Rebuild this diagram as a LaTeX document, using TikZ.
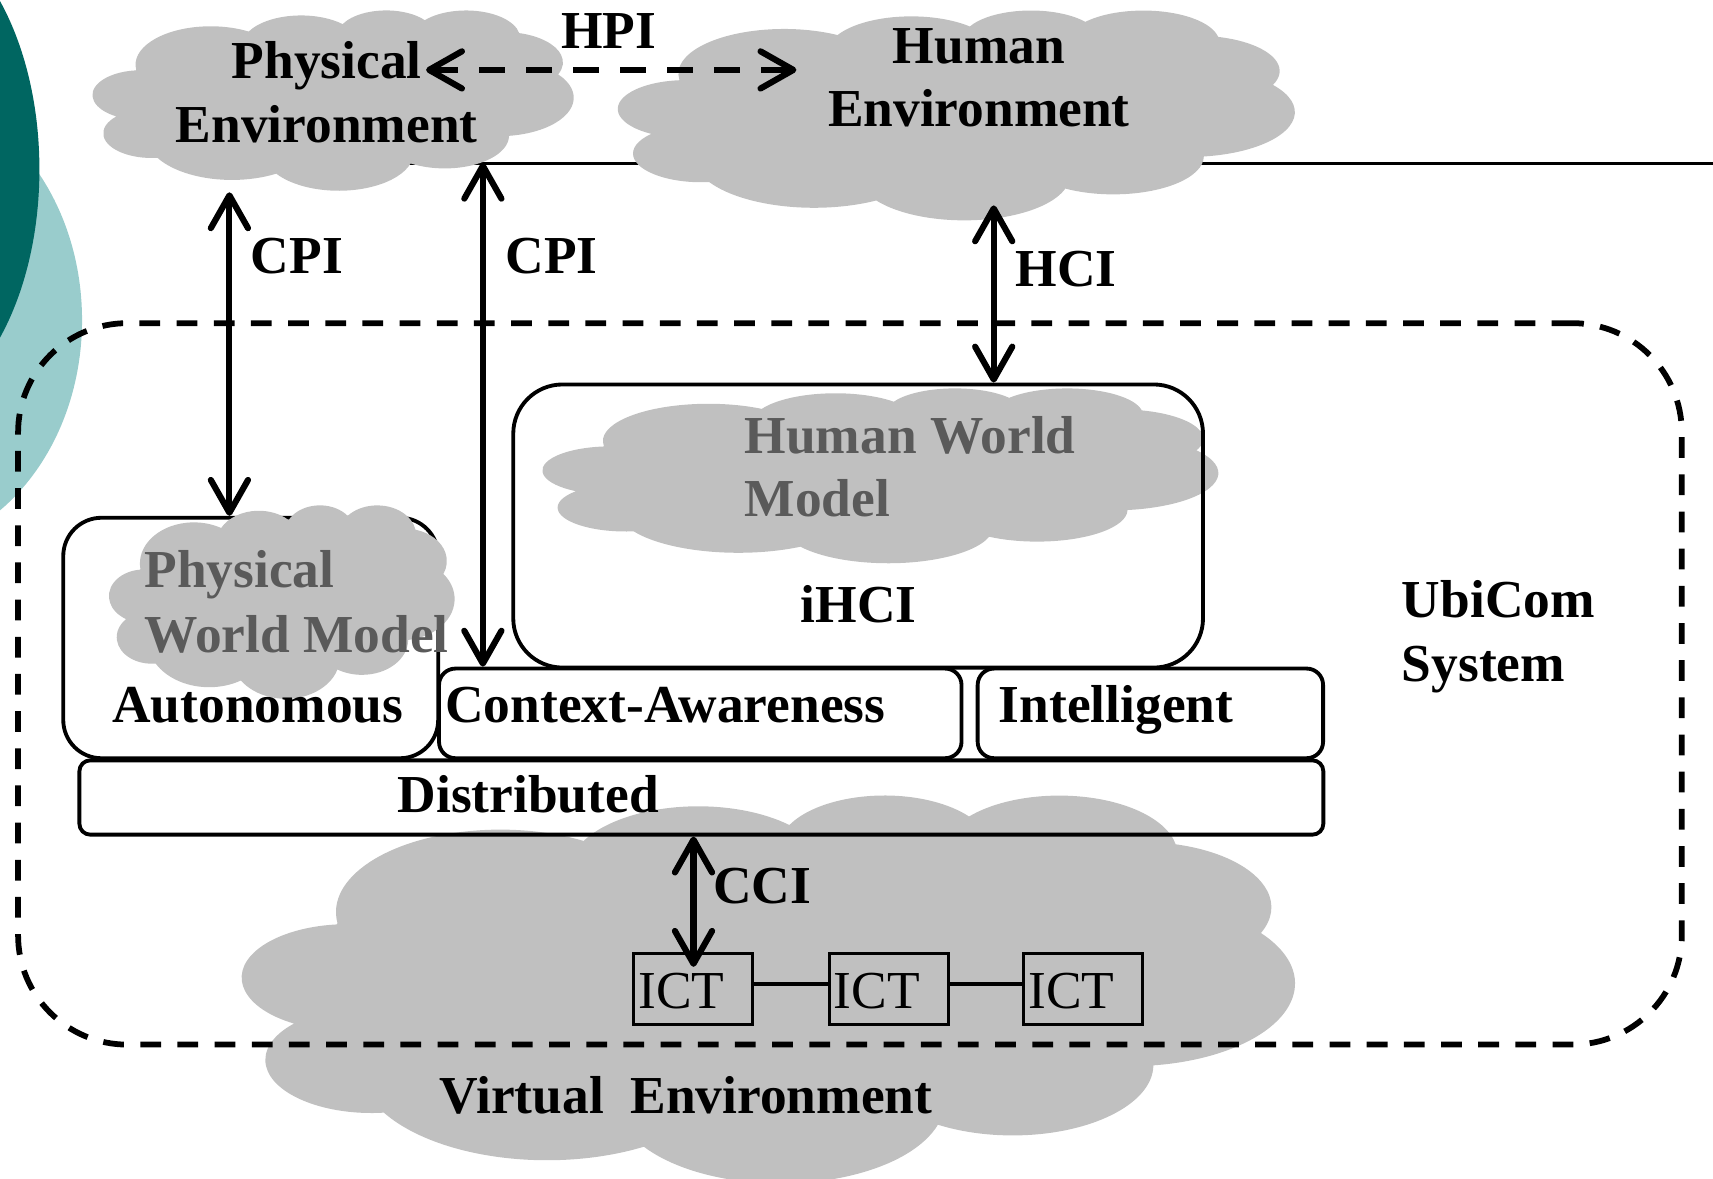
\documentclass[tikz,border=0pt]{standalone}
\usepackage{fontspec}
\setmainfont{Liberation Serif}
\usetikzlibrary{arrows.meta}
\definecolor{cloudgray}{RGB}{192,192,192}
\definecolor{modelgray}{RGB}{90,90,90}
\definecolor{tealdark}{RGB}{0,102,97}
\definecolor{teallight}{RGB}{153,204,204}

% Cloud outline on a 432 x 432 grid: each lobe is an elliptic arc given by
% its radii, the ray angle where it starts and its sweep.
\newcommand\defcloudarc[6]{%
  \pgfmathsetmacro\cloudtmpa{atan2(#3*sin(#5),#4*cos(#5))}%
  \pgfmathsetmacro\cloudtmpb{mod(atan2(#3*sin(#5+#6),#4*cos(#5+#6))-\cloudtmpa+720,360)}%
  \let#1\cloudtmpa
  \let#2\cloudtmpb
}
\defcloudarc{\csA}{\cdA}{67.53}{91.90}{-190.48748}{123.78053}
\defcloudarc{\csB}{\cdB}{53.33}{72.67}{-144.10238}{89.94523}
\defcloudarc{\csC}{\cdC}{43.65}{59.45}{-145.80792}{99.72302}
\defcloudarc{\csD}{\cdD}{48.57}{65.95}{-130.98607}{117.24173}
\defcloudarc{\csE}{\cdE}{53.33}{72.73}{-78.70888}{109.02692}
\defcloudarc{\csF}{\cdF}{67.75}{92.20}{-46.26725}{130.26900}
\defcloudarc{\csG}{\cdG}{57.85}{78.67}{0.62502}{114.03333}
\defcloudarc{\csH}{\cdH}{67.52}{92.15}{22.45160}{115.17255}
\defcloudarc{\csI}{\cdI}{77.20}{105.43}{66.24263}{75.71102}
\defcloudarc{\csJ}{\cdJ}{43.60}{59.18}{-274.94208}{146.73557}
\defcloudarc{\csK}{\cdK}{43.45}{59.45}{-246.82850}{152.51885}

% \cloudshape{left}{top}{width}{height}
\newcommand\cloudshape[4]{%
  \begin{scope}[shift={(#1,#2)}, xscale=#3/432, yscale=#4/432]
    \fill[cloudgray] (39,143.7)
      arc[start angle=\csA, delta angle=\cdA, x radius=67.53, y radius=91.90]
      arc[start angle=\csB, delta angle=\cdB, x radius=53.33, y radius=72.67]
      arc[start angle=\csC, delta angle=\cdC, x radius=43.65, y radius=59.45]
      arc[start angle=\csD, delta angle=\cdD, x radius=48.57, y radius=65.95]
      arc[start angle=\csE, delta angle=\cdE, x radius=53.33, y radius=72.73]
      arc[start angle=\csF, delta angle=\cdF, x radius=67.75, y radius=92.20]
      arc[start angle=\csG, delta angle=\cdG, x radius=57.85, y radius=78.67]
      arc[start angle=\csH, delta angle=\cdH, x radius=67.52, y radius=92.15]
      arc[start angle=\csI, delta angle=\cdI, x radius=77.20, y radius=105.43]
      arc[start angle=\csJ, delta angle=\cdJ, x radius=43.60, y radius=59.18]
      arc[start angle=\csK, delta angle=\cdK, x radius=43.45, y radius=59.45]
      -- cycle;
  \end{scope}}

\begin{document}
\begin{tikzpicture}[x=0.01cm,y=-0.01cm,
  txt/.style={font=\fontsize{13.9}{16.6}\selectfont\bfseries, inner sep=0pt},
  modeltxt/.style={txt, text=modelgray},
  icttxt/.style={font=\fontsize{13.9}{16.6}\selectfont, inner sep=0pt},
  layerbox/.style={draw, line width=1pt, inner sep=0pt},
  ictbox/.style={draw, line width=0.75pt, inner sep=0pt, minimum width=1.09cm, minimum height=0.65cm},
  link/.style={line width=1.6pt, line cap=round,
    arrows={Straight Barb[length=3mm,width=3.4mm,round]-Straight Barb[length=3mm,width=3.4mm,round]}},
  hpilink/.style={link, dash pattern=on 0.24cm off 0.19cm, line cap=butt},
]
\useasboundingbox (0,0) rectangle (1568,1079);

% slide decoration
\fill[teallight] (-100,293) ellipse [x radius=1.75cm, y radius=2.12cm];
\fill[tealdark] (-100,155) ellipse [x radius=1.36cm, y radius=2.27cm];

% boundary line
\coordinate (lineL) at (370,150);
\coordinate (lineR) at (1568,150);
\draw[line width=0.8pt] (lineL) -- (lineR);

% environments
\cloudshape{85}{9}{440}{165}
\cloudshape{566}{9}{619}{192}
\cloudshape{222}{727}{963}{355}

% world models and system layers
\cloudshape{497}{355}{618}{160}
\node[layerbox, fill=white, rounded corners=0.35cm, minimum width=3.43cm, minimum height=2.2cm] (auto) at (229.5,584) {};
\cloudshape{100}{462}{316}{177}
\node[layerbox, rounded corners=0.45cm, minimum width=6.31cm, minimum height=2.59cm] (ihci) at (785.5,481.5) {};
\node[layerbox, rounded corners=0.15cm, minimum width=4.78cm, minimum height=0.82cm] (ctx) at (641,653) {};
\node[layerbox, rounded corners=0.15cm, minimum width=3.16cm, minimum height=0.82cm] (intel) at (1053,653) {};
\node[layerbox, rounded corners=0.1cm, minimum width=11.38cm, minimum height=0.68cm] (dist) at (642,730) {};

% ICT devices
\node[ictbox] (ict1) at (634.5,905.5) {};
\node[ictbox] (ict2) at (813.5,905.5) {};
\node[ictbox] (ict3) at (991.5,905.5) {};
\draw[line width=1pt] ([yshift=0.045cm]ict1.east) -- ([yshift=0.045cm]ict2.west);
\draw[line width=1pt] ([yshift=0.045cm]ict2.east) -- ([yshift=0.045cm]ict3.west);

% UbiCom system boundary
\node[draw, line width=1.5pt, dash pattern=on 0.19cm off 0.15cm, rounded corners=1cm,
      minimum width=15.22cm, minimum height=6.6cm, inner sep=0pt] (ubicom) at (778,626) {};

% interactions
\coordinate (hpiL) at (390,64);
\coordinate (hpiR) at (729,64);
\draw[hpilink] (hpiL) -- (hpiR);
\coordinate (cpiAtop) at (210,176);
\draw[link] (cpiAtop) -- (cpiAtop |- auto.north);
\coordinate (cpiBtop) at (442,149);
\draw[link] (cpiBtop) -- (cpiBtop |- ctx.north);
\coordinate (hcitop) at (909.6,188);
\draw[link] (hcitop) -- (hcitop |- ihci.north);
\coordinate (ccibot) at (634.8,885);
\draw[link] (ccibot |- dist.south) -- (ccibot);

% labels
\node[txt, anchor=base] (pe1) at (299,71.5) {Physical};
\node[txt, anchor=base] (pe2) at (299,130) {Environment};
\node[txt, anchor=base] (he1) at (896,58) {Human};
\node[txt, anchor=base] (he2) at (896,116) {Environment};
\node[txt, anchor=base] (hpi) at (557,44) {HPI};
\node[txt, anchor=base west] (cpi1) at (229,250) {CPI};
\node[txt, anchor=base west] (cpi2) at (462,250) {CPI};
\node[txt, anchor=base west] (hci) at (929,262.5) {HCI};
\node[modeltxt, anchor=base west] (hwm1) at (681,415) {Human World};
\node[modeltxt, anchor=base west] (hwm2) at (681,473) {Model};
\node[txt, anchor=base] (ihcit) at (786,570) {iHCI};
\node[modeltxt, anchor=base west] (pwm1) at (131.6,538) {Physical};
\node[modeltxt, anchor=base west] (pwm2) at (131.6,597) {World Model};
\node[txt, anchor=base] (autot) at (236,661) {Autonomous};
\node[txt, anchor=base west] (ctxt) at (407,661) {Context-Awareness};
\node[txt, anchor=base west] (intelt) at (913.6,661) {Intelligent};
\node[txt, anchor=base] (distt) at (483.5,744) {Distributed};
\node[txt, anchor=base west] (ubi1) at (1282.6,565) {UbiCom};
\node[txt, anchor=base west] (ubi2) at (1282.6,624) {System};
\node[txt, anchor=base west] (cci) at (652,827) {CCI};
\node[icttxt, anchor=base west] (ict1t) at (583.6,923) {ICT};
\node[icttxt, anchor=base west] (ict2t) at (762.6,923) {ICT};
\node[icttxt, anchor=base west] (ict3t) at (940.6,923) {ICT};
\node[txt, anchor=base] (vet) at (628,1019) {Virtual\ \ Environment};
\end{tikzpicture}
\end{document}
